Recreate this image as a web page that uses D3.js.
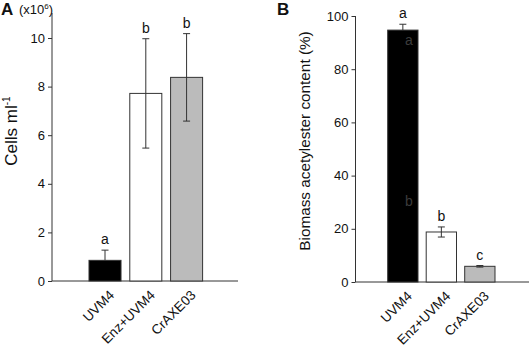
<!DOCTYPE html>
<html><head><meta charset="utf-8">
<script src="https://cdn.jsdelivr.net/npm/d3@7"></script>
<style>body{margin:0;background:#fff}svg{display:block}text{font-family:"Liberation Sans",Arial,sans-serif;fill:#111}</style>
</head><body>
<script>
const categories = ["UVM4", "Enz+UVM4", "CrAXE03"];
const fills = ["#000000", "#ffffff", "#bbbbbb"];
// Panel A: cells per ml (x10^6)
const cellsMean = [0.85, 7.72, 8.38];
const cellsErr = [0.42, 2.25, 1.8];
const cellsLetters = ["a", "b", "b"];
const cellsTicks = [0, 2, 4, 6, 8, 10];
// Panel B: biomass acetylester content (%)
const acetylMean = [94.7, 18.8, 5.9];
const acetylErr = [2.2, 1.9, 0.3];
const acetylLetters = ["a", "b", "c"];
const acetylTicks = [0, 20, 40, 60, 80, 100];

const W = 529, H = 348;
const svg = d3.select("body").append("svg").attr("width", W).attr("height", H);
const axisCol = "#333";

function panel(cfg) {
  const g = svg.append("g");
  const x = d3.scaleBand().domain(categories).range(cfg.band).paddingInner(cfg.pi).paddingOuter(0.5);
  const y = d3.scaleLinear().domain(cfg.ydom).range([cfg.y0, cfg.y1]);
  const ya = g.append("g").attr("transform", `translate(${cfg.axX},0)`)
    .call(d3.axisLeft(y).tickValues(cfg.ticks).tickSize(4).tickPadding(3).tickSizeOuter(0));
  ya.select(".domain").attr("stroke", axisCol).attr("d", `M0,${cfg.yTop}V${cfg.y0}`);
  ya.selectAll(".tick line").attr("stroke", axisCol);
  ya.selectAll(".tick text").attr("font-size", 13).attr("font-family", "Liberation Sans, Arial").attr("fill", "#111");
  g.append("line").attr("x1", cfg.axX).attr("x2", cfg.xEnd).attr("y1", y(0)).attr("y2", y(0))
    .attr("stroke", axisCol).attr("stroke-width", 1);
  g.selectAll("rect.bar").data(categories).join("rect")
    .attr("x", d => x(d)).attr("width", x.bandwidth())
    .attr("y", (d, i) => y(cfg.mean[i])).attr("height", (d, i) => y(0) - y(cfg.mean[i]))
    .attr("fill", (d, i) => fills[i]).attr("stroke", axisCol).attr("stroke-width", 1);
  categories.forEach((c, i) => {
    const cx = x(c) + x.bandwidth() / 2;
    const top = y(cfg.mean[i] + cfg.err[i]);
    const bot = cfg.upOnly[i] ? y(cfg.mean[i]) : y(cfg.mean[i] - cfg.err[i]);
    g.append("line").attr("x1", cx).attr("x2", cx).attr("y1", top).attr("y2", bot).attr("stroke", axisCol);
    g.append("line").attr("x1", cx - 3.5).attr("x2", cx + 3.5).attr("y1", top).attr("y2", top).attr("stroke", axisCol);
    if (!cfg.upOnly[i]) g.append("line").attr("x1", cx - 3.5).attr("x2", cx + 3.5).attr("y1", bot).attr("y2", bot).attr("stroke", axisCol);
    g.append("text").attr("x", cx).attr("y", top - 6).attr("text-anchor", "middle").attr("font-size", 14).text(cfg.letters[i]);
    g.append("text").attr("text-anchor", "end").attr("font-size", 13.5)
      .attr("transform", `translate(${cx + 10},${y(0) + 15}) rotate(-45)`).text(c);
  });
  g.append("text").attr("x", cfg.panelX).attr("y", 15).attr("font-size", 17).attr("font-weight", "bold").text(cfg.panelLabel);
  return {g, x, y};
}

const A = panel({band: [68.6, 223], pi: 0.215, ydom: [0, 11], y0: 281, y1: 13.7, yTop: 13, axX: 52, xEnd: 238,
  ticks: cellsTicks, mean: cellsMean, err: cellsErr, letters: cellsLetters, upOnly: [true, false, false], panelX: 1, panelLabel: "A"});
const unit = A.g.append("text").attr("x", 19).attr("y", 14).attr("font-size", 13);
unit.append("tspan").text("(x10");
unit.append("tspan").attr("dy", -5).attr("font-size", 8).text("6");
unit.append("tspan").attr("dy", 5).attr("font-size", 13).text(")");
const ta = A.g.append("text").attr("transform", "translate(17,131) rotate(-90)").attr("text-anchor", "middle").attr("font-size", 17);
ta.append("tspan").text("Cells ml");
ta.append("tspan").attr("dy", -7).attr("font-size", 10).text("-1");

const B = panel({band: [368.45, 514.25], pi: 0.213, ydom: [0, 100], y0: 282, y1: 16, yTop: 16, axX: 355.5, xEnd: 529,
  ticks: acetylTicks, mean: acetylMean, err: acetylErr, letters: acetylLetters, upOnly: [true, false, false], panelX: 277, panelLabel: "B"});
B.g.append("text").attr("transform", "translate(310,141) rotate(-90)").attr("text-anchor", "middle").attr("font-size", 15.3)
  .text("Biomass acetylester content (%)");
const bx = B.x("UVM4") + B.x.bandwidth() / 2 + 6;
B.g.append("text").attr("x", bx).attr("y", 45).attr("text-anchor", "middle").attr("font-size", 14).style("fill", "#3c3c3c").text("a");
B.g.append("text").attr("x", bx).attr("y", 206).attr("text-anchor", "middle").attr("font-size", 14).style("fill", "#3c3c3c").text("b");
</script>
</body></html>
